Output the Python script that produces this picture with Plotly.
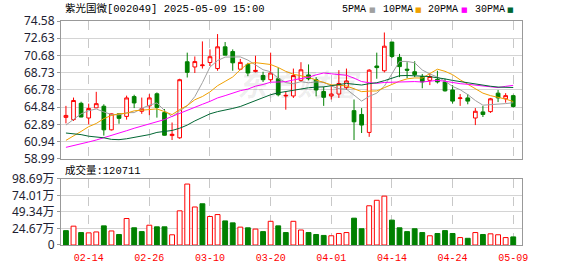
import plotly.graph_objects as go

# ---------------- data ----------------
dates = ["02-11", "02-12", "02-13", "02-14", "02-17", "02-18", "02-19", "02-20", "02-21", "02-24",
         "02-25", "02-26", "02-27", "02-28", "03-03", "03-04", "03-05", "03-06", "03-07", "03-10",
         "03-11", "03-12", "03-13", "03-14", "03-17", "03-18", "03-19", "03-20", "03-21", "03-24",
         "03-25", "03-26", "03-27", "03-28", "03-31", "04-01", "04-02", "04-03", "04-07", "04-08",
         "04-09", "04-10", "04-11", "04-14", "04-15", "04-16", "04-17", "04-18", "04-21", "04-22",
         "04-23", "04-24", "04-25", "04-28", "04-29", "04-30", "05-06", "05-07", "05-08", "05-09"]

opens = [63.68, 63.43, 65.27, 63.61, 64.76, 64.94, 62.27, 64.08, 63.79, 66.03,
         64.37, 64.98, 66.35, 64.22, 61.62, 61.37, 69.97, 69.38, 69.53, 69.89,
         69.20, 71.66, 71.12, 69.13, 69.67, 68.88, 68.41, 67.94, 68.05, 66.10,
         66.10, 67.87, 68.48, 67.94, 66.60, 66.10, 66.32, 67.04, 64.44, 64.01,
         61.98, 69.49, 68.95, 72.20, 70.47, 69.13, 68.84, 68.30, 67.87, 67.98,
         67.69, 66.78, 65.81, 65.88, 63.61, 64.30, 64.33, 66.42, 65.78, 66.14]
highs = [64.98, 65.92, 65.45, 65.23, 66.57, 65.16, 64.12, 64.10, 66.14, 66.24,
         65.92, 66.31, 66.50, 64.62, 63.10, 68.05, 71.00, 70.57, 72.27, 71.37,
         73.10, 72.20, 71.37, 70.29, 69.85, 70.65, 68.84, 71.00, 69.31, 66.60,
         69.20, 69.92, 69.67, 68.23, 67.14, 67.40, 69.02, 69.20, 65.70, 64.73,
         69.13, 71.00, 73.28, 72.20, 70.86, 69.92, 70.03, 68.59, 68.59, 68.95,
         68.05, 67.33, 66.32, 66.32, 64.73, 64.98, 65.88, 66.78, 66.42, 66.24]
lows = [63.00, 63.28, 63.70, 62.89, 64.76, 61.62, 62.20, 62.96, 63.43, 64.73,
        64.08, 63.93, 63.65, 61.62, 61.12, 61.26, 68.19, 68.70, 69.20, 69.49,
        68.95, 70.72, 68.95, 69.02, 68.34, 68.77, 67.69, 67.69, 66.06, 64.55,
        65.88, 67.69, 67.87, 66.06, 64.98, 65.70, 65.88, 66.78, 61.12, 61.91,
        61.48, 68.05, 68.77, 70.39, 68.23, 68.12, 68.23, 66.97, 67.33, 67.51,
        66.60, 65.23, 64.98, 65.16, 62.81, 63.72, 64.19, 65.41, 65.34, 64.80]
closes = [63.90, 65.59, 63.72, 64.69, 65.23, 62.27, 64.08, 63.57, 65.88, 65.31,
          64.66, 65.88, 64.80, 61.66, 61.77, 67.94, 68.77, 69.99, 69.60, 70.54,
          71.66, 70.72, 69.85, 69.90, 68.70, 68.99, 67.94, 68.70, 66.24, 66.17,
          68.41, 69.06, 68.05, 66.78, 65.95, 66.32, 67.51, 67.80, 63.18, 62.81,
          69.02, 69.31, 71.73, 70.57, 69.42, 69.02, 68.52, 67.69, 68.30, 67.69,
          66.68, 65.52, 65.88, 65.52, 64.37, 64.01, 65.78, 65.88, 66.14, 64.91]

ma5 = [62.81, 63.43, 64.08, 64.44, 64.63, 64.30, 64.00, 63.97, 64.21, 64.22,
       64.70, 65.06, 65.31, 64.46, 63.75, 64.41, 64.99, 66.03, 67.61, 69.37,
       70.11, 70.50, 70.47, 70.52, 70.16, 69.62, 69.07, 68.84, 68.11, 67.61,
       67.49, 67.72, 67.59, 67.69, 67.65, 67.23, 66.92, 66.87, 66.15, 65.52,
       66.06, 66.42, 67.21, 68.69, 70.01, 70.01, 69.85, 69.04, 68.59, 68.24,
       67.78, 67.18, 66.81, 66.26, 65.59, 65.06, 65.11, 65.11, 65.24, 65.34]
ma10 = [61.08, 61.55, 62.09, 62.63, 62.99, 63.54, 63.90, 64.08, 64.15, 64.42,
        64.50, 64.53, 64.64, 64.33, 63.99, 64.56, 65.02, 65.67, 66.04, 66.56,
        67.26, 67.75, 68.25, 69.07, 69.76, 69.87, 69.78, 69.66, 69.32, 68.88,
        68.56, 68.39, 68.21, 67.90, 67.63, 67.36, 67.32, 67.23, 66.92, 66.59,
        66.65, 66.67, 67.04, 67.42, 67.77, 68.04, 68.14, 68.13, 68.64, 69.13,
        68.89, 68.51, 67.93, 67.42, 66.92, 66.42, 66.14, 65.96, 65.75, 65.47]
ma20 = [60.29, 60.47, 60.65, 60.90, 61.12, 61.37, 61.62, 61.84, 62.17, 62.45,
        62.71, 62.92, 63.18, 63.43, 63.79, 64.15, 64.44, 64.80, 65.16, 65.49,
        65.88, 66.14, 66.44, 66.70, 66.88, 67.21, 67.40, 67.66, 67.68, 67.72,
        67.91, 68.07, 68.23, 68.49, 68.70, 68.61, 68.55, 68.44, 68.12, 67.73,
        67.60, 67.53, 67.63, 67.66, 67.70, 67.70, 67.73, 67.68, 67.78, 67.86,
        67.77, 67.59, 67.49, 67.42, 67.34, 67.23, 67.14, 67.05, 67.19, 67.30]
ma30 = [61.91, 61.84, 61.73, 61.55, 61.48, 61.37, 61.19, 61.16, 61.26, 61.41,
        61.55, 61.73, 61.98, 62.09, 62.20, 62.45, 62.81, 63.28, 63.72, 64.08,
        64.33, 64.48, 64.69, 64.91, 65.23, 65.52, 65.88, 66.24, 66.46, 66.62,
        66.77, 66.89, 67.03, 67.10, 67.13, 67.26, 67.38, 67.52, 67.43, 67.34,
        67.49, 67.60, 67.83, 68.13, 68.39, 68.42, 68.41, 68.34, 68.29, 68.20,
        68.03, 67.86, 67.73, 67.58, 67.44, 67.27, 67.20, 67.11, 67.10, 67.06]

# volume in 万手
volume = [21.45, 28.13, 18.59, 18.12, 19.50, 28.60, 20.98, 15.70, 39.58, 25.74,
          20.03, 29.56, 27.18, 27.18, 15.26, 51.02, 91.06, 56.80, 61.60, 42.60,
          45.50, 36.00, 33.10, 26.70, 25.70, 23.80, 20.00, 35.40, 28.60, 18.60,
          35.40, 22.40, 18.60, 15.70, 14.30, 13.80, 17.20, 18.60, 40.10, 24.30,
          58.60, 66.80, 73.00, 37.20, 25.70, 20.00, 24.30, 18.60, 13.80, 17.20,
          21.50, 17.20, 11.10, 10.00, 18.60, 15.70, 16.70, 15.30, 11.10, 12.07]
# 1 = 涨 (red hollow), 0 = 跌 (green)
vol_up = [0, 1, 0, 1, 1, 0, 1, 0, 1, 0, 0, 1, 0, 0, 1, 1, 1, 1, 0, 1,
          1, 0, 0, 1, 0, 1, 0, 1, 0, 0, 1, 1, 0, 0, 0, 1, 1, 1, 0, 0,
          1, 1, 1, 0, 0, 0, 0, 0, 1, 0, 0, 0, 1, 0, 1, 0, 1, 1, 1, 0]

price_ticks = [58.99, 60.94, 62.89, 64.84, 66.78, 68.73, 70.68, 72.63, 74.58]
vol_ticks = [0, 24.67, 49.34, 74.01, 98.69]
vol_tick_text = ["0", "24.67万", "49.34万", "74.01万", "98.69万"]
date_ticks = ["02-14", "02-26", "03-10", "03-20", "04-01", "04-14", "04-24", "05-09"]
title_text = "紫光国微[002049] 2025-05-09 15:00"
vol_title = "成交量:120711"
ma_names = ["5PMA", "10PMA", "20PMA", "30PMA"]

# ---------------- style ----------------
RED = "#ff0000"
GREEN = "#008000"
MA_COLORS = ["#a0a0a0", "#f0a000", "#ff00ff", "#006633"]
GRID = "#d4d4d4"
FRAME = "#999999"

W, H = 578, 276
L, R, T, B = 55, 56, 21, 21
PW, PH = W - L - R, H - T - B


def px(xp):
    return (xp - L) / PW


def py(yp):
    return (H - B - yp) / PH


x = list(range(len(dates)))
tickvals = [dates.index(d) for d in date_ticks]

fig = go.Figure()

fig.add_trace(go.Candlestick(
    x=x, open=opens, high=highs, low=lows, close=closes,
    xaxis="x2", yaxis="y2",
    increasing=dict(line=dict(color=RED, width=1), fillcolor="white"),
    decreasing=dict(line=dict(color=GREEN, width=1), fillcolor=GREEN),
    whiskerwidth=0, hoverinfo="skip",
))

for vals, col in zip([ma5, ma10, ma20, ma30], MA_COLORS):
    fig.add_trace(go.Scatter(x=x, y=vals, mode="lines", xaxis="x2", yaxis="y2",
                             line=dict(color=col, width=1), hoverinfo="skip"))

fig.add_trace(go.Bar(
    x=x, y=volume, xaxis="x", yaxis="y", width=0.64,
    marker=dict(color=["white" if u else GREEN for u in vol_up],
                line=dict(color=[RED if u else GREEN for u in vol_up], width=1)),
    hoverinfo="skip",
))

common_x = dict(range=[-0.651, 60.156], tickvals=tickvals, showgrid=True, gridcolor="#c8c8c8",
                griddash="dash", gridwidth=1, showline=True, mirror=True, linecolor=FRAME,
                linewidth=1, zeroline=False, ticks="")

fig.update_layout(
    width=W, height=H, margin=dict(l=L, r=R, t=T, b=B),
    paper_bgcolor="white", plot_bgcolor="white", showlegend=False,
    xaxis=dict(domain=[0, 1], anchor="y", ticktext=date_ticks, ticklabelstandoff=3,
               tickfont=dict(family="Liberation Mono", size=10, color=RED), **common_x),
    xaxis2=dict(domain=[0, 1], anchor="y2", matches="x", showticklabels=False,
                rangeslider=dict(visible=False), **common_x),
    yaxis=dict(domain=[0, py(186)], anchor="x", range=[0, 98.69], tickvals=vol_ticks,
               ticktext=vol_tick_text, showgrid=True, gridcolor=GRID, gridwidth=1,
               showline=True, mirror=True, linecolor=FRAME, zeroline=False,
               ticks="outside", ticklen=3, tickcolor=FRAME,
               tickfont=dict(family="Noto Sans, Noto Sans CJK SC", size=12, color="#1e1e32")),
    yaxis2=dict(domain=[py(165), 1], anchor="x2", range=[58.99, 74.58], tickvals=price_ticks,
                ticktext=["%.2f" % v for v in price_ticks], showgrid=True, gridcolor=GRID,
                gridwidth=1, showline=True, mirror=True, linecolor=FRAME, zeroline=False,
                ticks="outside", ticklen=3, tickcolor=FRAME,
                tickfont=dict(family="Noto Sans", size=12, color="#1e1e32")),
)

ann = []
# watermark
ann.append(dict(text="东方财富", xref="paper", yref="paper", x=px(296), y=py(86),
                showarrow=False, xanchor="center", yanchor="middle",
                font=dict(family="Noto Sans CJK SC", size=30, color="rgba(0,0,0,0.07)",
                          weight="bold", style="italic")))
# title
ann.append(dict(text=title_text, xref="paper", yref="paper", x=px(57), y=py(8),
                showarrow=False, xanchor="left", yanchor="middle",
                font=dict(family="Liberation Mono, Noto Sans CJK SC", size=10.5, color="#000")))
# volume caption
ann.append(dict(text=vol_title, xref="paper", yref="paper", x=px(57), y=py(177),
                showarrow=False, xanchor="left", yanchor="middle",
                font=dict(family="Liberation Mono, Noto Sans CJK SC", size=10.5, color="#000")))
# MA legend
legend_x = [338, 379, 425, 472]
for name, col, lx in zip(ma_names, MA_COLORS, legend_x):
    ann.append(dict(text=name, xref="paper", yref="paper", x=px(lx), y=py(8.5),
                    showarrow=False, xanchor="left", yanchor="middle",
                    font=dict(family="Liberation Mono", size=10, color="#000")))
    ann.append(dict(text="■", xref="paper", yref="paper", x=px(lx + 6 * len(name) + 3), y=py(9),
                    showarrow=False, xanchor="left", yanchor="middle",
                    font=dict(family="DejaVu Sans", size=7, color=col)))
fig.update_layout(annotations=ann)

fig.write_html("out.html")
